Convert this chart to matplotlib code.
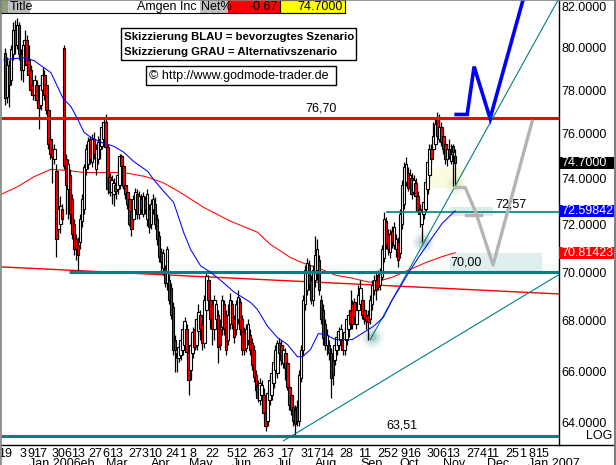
import matplotlib
matplotlib.use("Agg")
import matplotlib.pyplot as plt
import numpy as np
import pandas as pd
from matplotlib.patches import Rectangle
from matplotlib.transforms import blended_transform_factory
from matplotlib.ticker import NullLocator, FixedLocator

plt.rcParams['font.family'] = ['Liberation Sans', 'DejaVu Sans']

# ---------------- data ----------------
holidays = ['2005-12-26', '2006-01-02', '2006-01-16', '2006-02-20', '2006-04-14',
            '2006-05-29', '2006-07-04', '2006-09-04']
start_date = '2005-12-19'
last_date = '2006-11-14'
axis_end_date = '2007-01-31'

opens = [79.76, 77.68, 79.19, 78.48, 79.67, 80.86, 80.14, 81.10, 79.67, 78.95,
         80.14, 80.38, 79.43, 78.95, 78.24, 77.78, 78.24, 77.55, 77.33, 78.00,
         78.72, 78.24, 77.10, 75.75, 75.30, 74.85, 74.32, 71.80, 72.02, 72.67,
         80.00, 74.85, 73.53, 74.18, 73.10, 72.02, 71.38, 71.16, 71.25, 72.15,
         72.67, 74.41, 74.63, 75.75, 74.72, 75.75, 74.41, 74.85, 75.30, 75.44,
         75.75, 76.52, 75.39, 74.09, 73.40, 73.31, 73.74, 73.53, 73.74, 74.99,
         74.54, 73.74, 73.40, 73.10, 72.58, 72.24, 72.67, 73.31, 72.45, 73.10,
         72.45, 73.10, 72.24, 72.67, 72.02, 72.67, 72.88, 72.24, 71.51, 70.86,
         70.17, 70.17, 69.56, 69.68, 69.35, 68.55, 67.25, 66.73, 66.53, 66.65,
         66.85, 67.05, 67.66, 66.77, 66.04, 66.73, 67.66, 67.05, 67.58, 68.26,
         67.86, 67.13, 68.46, 69.68, 68.87, 68.67, 67.66, 68.06, 68.26, 67.66,
         67.74, 68.67, 68.26, 67.25, 67.86, 68.67, 68.06, 67.66, 68.06, 68.75,
         68.06, 67.54, 66.93, 67.25, 67.45, 67.13, 66.85, 65.84, 65.46, 64.87,
         65.07, 65.07, 64.37, 64.09, 64.87, 65.07, 65.53, 66.04, 65.92, 67.13,
         67.05, 66.32, 66.73, 66.32, 65.38, 65.07, 64.60, 64.48, 64.60, 64.09,
         65.73, 66.85, 68.67, 69.27, 70.30, 69.68, 68.87, 69.68, 70.09, 70.52,
         68.87, 68.46, 67.86, 67.05, 67.05, 66.73, 66.65, 66.44, 66.85, 67.05,
         67.25, 67.25, 66.85, 67.25, 67.66, 68.46, 68.67, 68.75, 67.86, 68.46,
         68.67, 68.87, 68.46, 68.26, 68.26, 68.06, 68.67, 69.27, 69.68, 69.88,
         69.47, 69.80, 70.60, 72.15, 71.59, 70.86, 71.72, 71.16, 70.95, 71.25,
         70.82, 72.02, 72.88, 73.87, 74.27, 73.74, 74.05, 73.40, 73.83, 73.23,
         72.67, 72.02, 72.45, 72.67, 73.53, 74.18, 75.30, 75.30, 75.53, 76.65,
         75.75, 76.29, 75.89, 75.53, 74.85, 75.30, 74.76, 75.45, 74.99]
highs = [80.00, 79.53, 79.43, 80.14, 81.24, 81.33, 81.43, 81.24, 79.91, 80.38,
         80.86, 80.62, 80.14, 79.19, 78.48, 78.72, 78.48, 77.78, 78.72, 79.10,
         78.95, 78.48, 77.33, 75.98, 75.53, 75.53, 74.63, 73.10, 73.23, 72.88,
         80.14, 75.08, 74.85, 74.41, 73.31, 72.24, 71.59, 71.46, 72.45, 73.31,
         74.63, 75.53, 75.84, 75.89, 75.98, 76.07, 75.53, 75.89, 75.98, 76.52,
         76.74, 76.88, 75.53, 74.27, 74.18, 74.05, 73.96, 74.63, 75.08, 75.08,
         74.72, 73.96, 73.53, 73.23, 72.75, 73.27, 73.61, 73.53, 73.44, 73.31,
         73.40, 73.23, 73.53, 72.88, 73.10, 73.31, 73.18, 72.45, 71.72, 71.03,
         70.95, 70.30, 71.08, 69.88, 69.56, 68.75, 67.45, 66.93, 67.13, 67.45,
         67.86, 68.14, 67.86, 66.93, 67.25, 67.74, 68.06, 68.26, 68.67, 68.46,
         68.06, 69.07, 69.96, 69.88, 69.07, 68.87, 69.07, 68.87, 68.46, 68.06,
         69.07, 68.87, 68.46, 68.67, 69.15, 68.87, 68.26, 68.87, 69.27, 68.95,
         68.26, 67.74, 67.86, 68.06, 67.66, 67.33, 67.05, 66.04, 65.65, 65.73,
         65.65, 65.34, 64.56, 65.26, 65.84, 66.12, 66.65, 67.05, 67.25, 67.33,
         67.25, 67.05, 66.93, 66.53, 65.57, 65.26, 64.76, 64.68, 64.87, 66.04,
         67.05, 69.07, 70.30, 70.60, 70.52, 69.88, 70.30, 71.51, 71.38, 70.73,
         69.07, 68.67, 68.06, 67.66, 67.25, 66.93, 66.85, 67.25, 67.54, 67.74,
         67.86, 67.45, 67.74, 68.26, 68.46, 69.27, 68.87, 68.95, 68.67, 69.47,
         69.68, 69.07, 68.67, 68.46, 68.46, 69.07, 69.68, 69.88, 69.96, 70.09,
         70.17, 71.16, 72.54, 72.32, 71.80, 71.80, 71.93, 72.11, 71.59, 71.46,
         72.67, 73.96, 74.72, 74.94, 74.50, 74.41, 74.27, 74.18, 74.05, 73.44,
         72.88, 72.75, 73.18, 74.05, 74.85, 75.53, 75.53, 76.52, 76.65, 77.01,
         76.88, 76.52, 76.11, 75.75, 75.53, 75.75, 75.53, 75.53, 75.30]
lows = [77.33, 77.42, 77.24, 78.24, 79.43, 79.67, 79.91, 79.43, 78.48, 78.38,
        79.67, 78.72, 78.24, 77.78, 77.55, 77.55, 77.33, 76.20, 77.10, 77.78,
        77.55, 76.88, 75.30, 74.85, 73.83, 74.63, 70.65, 71.38, 71.67, 72.02,
        74.41, 72.45, 72.24, 72.02, 71.38, 70.73, 70.52, 70.00, 70.95, 71.89,
        72.45, 74.18, 74.41, 74.63, 74.50, 74.85, 74.18, 74.63, 74.85, 75.30,
        75.53, 75.30, 73.31, 73.23, 72.88, 72.80, 73.10, 73.31, 73.53, 74.32,
        73.53, 73.10, 72.67, 71.93, 71.51, 72.02, 72.45, 72.24, 72.24, 72.45,
        72.32, 72.45, 71.93, 71.67, 71.80, 72.45, 71.80, 71.16, 70.43, 70.00,
        69.88, 69.39, 69.27, 68.67, 68.06, 66.65, 65.96, 65.96, 66.36, 66.44,
        66.65, 66.85, 66.44, 65.07, 65.65, 66.53, 66.85, 66.85, 67.42, 67.25,
        66.85, 66.93, 68.26, 68.67, 67.66, 67.05, 67.25, 67.66, 66.32, 66.85,
        67.45, 67.45, 66.65, 67.05, 67.66, 67.66, 67.13, 67.45, 67.86, 67.45,
        66.65, 66.65, 66.77, 67.05, 66.65, 66.04, 65.57, 65.07, 64.79, 64.68,
        64.87, 64.17, 63.70, 63.90, 64.68, 64.87, 65.34, 65.84, 65.73, 66.44,
        66.24, 66.12, 65.65, 65.26, 64.48, 64.29, 63.90, 63.51, 63.90, 63.90,
        65.57, 66.65, 68.46, 69.07, 69.27, 68.67, 68.59, 69.39, 69.68, 69.07,
        67.86, 67.05, 66.85, 66.65, 66.44, 64.95, 65.46, 66.24, 66.65, 66.85,
        67.05, 66.65, 66.65, 67.05, 67.37, 67.66, 67.66, 67.94, 67.66, 68.26,
        68.46, 68.06, 67.86, 67.66, 67.25, 67.86, 68.46, 69.07, 68.87, 69.27,
        69.27, 69.68, 70.43, 70.95, 70.73, 70.60, 71.03, 70.95, 70.65, 70.22,
        70.60, 71.80, 72.67, 73.66, 73.44, 73.53, 73.10, 73.23, 72.58, 72.45,
        71.89, 71.25, 72.24, 72.58, 73.31, 74.05, 74.63, 75.08, 75.30, 75.75,
        75.62, 75.44, 75.08, 74.63, 74.54, 74.85, 74.63, 73.70, 73.70]
closes = [77.64, 79.19, 78.24, 79.91, 80.86, 80.14, 81.10, 79.67, 78.95, 80.14,
          80.38, 79.19, 78.72, 78.00, 77.78, 78.48, 77.55, 77.19, 78.24, 78.72,
          77.78, 77.10, 75.53, 75.08, 74.94, 75.30, 71.38, 72.67, 72.80, 72.24,
          74.54, 73.74, 74.63, 72.45, 71.59, 70.95, 70.95, 70.73, 72.24, 73.10,
          74.50, 75.30, 75.66, 74.85, 75.75, 75.08, 75.30, 75.62, 75.75, 76.29,
          76.52, 75.39, 73.53, 73.40, 73.96, 73.83, 73.44, 74.18, 74.99, 74.54,
          73.66, 73.31, 72.88, 72.02, 71.80, 73.10, 73.40, 72.45, 73.23, 72.67,
          73.23, 72.67, 73.31, 71.89, 72.88, 73.10, 72.02, 71.38, 70.65, 70.43,
          70.82, 69.56, 70.95, 68.87, 68.26, 66.85, 66.85, 66.53, 66.97, 67.25,
          67.66, 67.98, 66.77, 65.65, 67.05, 67.54, 66.97, 68.06, 68.38, 67.66,
          67.13, 68.87, 69.84, 68.87, 68.06, 67.66, 68.87, 68.67, 66.97, 67.05,
          68.87, 67.66, 66.85, 68.26, 68.87, 67.86, 67.37, 68.67, 68.99, 67.66,
          66.85, 66.85, 67.66, 67.86, 66.85, 66.24, 65.77, 65.26, 64.95, 65.53,
          65.46, 64.37, 63.90, 65.14, 65.65, 65.92, 66.36, 66.85, 67.13, 66.73,
          66.44, 66.85, 66.12, 65.38, 64.68, 64.48, 64.09, 63.97, 64.09, 65.84,
          66.85, 68.87, 70.09, 70.39, 69.47, 68.87, 70.09, 70.73, 70.95, 69.27,
          68.06, 67.33, 67.05, 67.45, 66.73, 65.73, 65.84, 67.05, 67.37, 67.58,
          67.66, 66.85, 67.54, 68.06, 68.26, 67.86, 67.86, 68.14, 68.46, 69.07,
          69.35, 68.26, 68.06, 67.98, 67.94, 68.87, 69.47, 69.68, 69.27, 69.39,
          69.96, 70.95, 72.24, 71.16, 70.95, 71.59, 71.25, 71.89, 71.38, 70.52,
          72.45, 73.74, 74.50, 74.63, 73.61, 74.18, 73.31, 73.96, 73.23, 72.58,
          72.45, 72.54, 72.97, 73.87, 74.72, 75.30, 74.85, 75.89, 76.43, 75.89,
          76.29, 75.62, 75.30, 74.85, 75.30, 74.99, 75.08, 75.20, 74.70]

# moving averages (index, price)
blue_ma_idx = [-0.5, 9.6, 14.7, 19.7, 23.3, 29.3, 33.4, 36.9, 40, 43.5, 48.5, 55.1, 60.2,
               65.2, 72.3, 75.3, 80.4, 85.4, 90.5, 94, 99.1, 104.1, 110.7, 115.8, 124.4,
               127.9, 133, 138, 143.1, 148.1, 150.7, 154.7, 158.7, 162.3, 167.3, 175.9,
               181.5, 186.6, 191.6, 196.2, 200.2, 204.2, 209.3, 216.4, 221.4, 228]
blue_ma_val = [79.43, 79.52, 79.38, 79.05, 78.81, 77.64, 77.24, 76.65, 76.07, 75.84, 75.62,
               75.44, 75.17, 74.76, 74.32, 73.96, 73.44, 72.97, 71.67, 70.95, 70.26, 70.00,
               69.56, 69.19, 68.75, 68.46, 67.78, 67.33, 67.05, 66.57, 66.57, 66.85, 67.49,
               67.45, 67.25, 67.25, 67.53, 67.78, 68.14, 68.87, 69.39, 69.95, 70.60, 71.46,
               72.06, 72.59842]
red_ma_idx = [-2, 6.6, 14.7, 23.3, 31.9, 40, 48.5, 57.1, 62.7, 71.3, 79.9, 88, 96.6, 100.6,
              114.3, 127.9, 134.5, 144.6, 150.7, 158.7, 167.3, 175.9, 184, 187.6, 196.2,
              204.2, 212.8, 221.4, 228]
red_ma_val = [73.31, 73.66, 74.09, 74.41, 74.36, 74.27, 74.27, 74.27, 74.23, 74.09, 73.83,
              73.44, 72.97, 72.75, 72.15, 71.68, 71.16, 70.61, 70.39, 70.17, 69.88, 69.75,
              69.59, 69.59, 69.79, 70.08, 70.39, 70.65, 70.81423]

# marked levels
level_resist = 76.70
level_mid = 72.57
level_support = 70.00
level_low = 63.51
level_texts = {76.70: "76,70", 72.57: "72,57", 70.00: "70,00", 63.51: "63,51"}

# trend lines (index, price)
red_trend = ([-2.02, 280.6], [70.22, 69.10])
teal_trend_flat = ([141.0, 280.6], [63.32, 69.90])
teal_trend_steep = ([185.0, 280.1], [67.25, 82.29])

# scenario sketches (index, price)
blue_path_idx = [228.5, 234.1, 237.6, 245.7, 264.9]
blue_path_val = [76.88, 76.88, 79.10, 76.70, 83.18]
grey_path_idx = [228.0, 233.1, 238.6, 247.2, 267.0]
grey_path_val = [73.61, 73.61, 72.50, 70.30, 76.56]
grey_tick_idx = [233.6, 241.2]
grey_tick_val = [72.41, 72.41]

# zones (idx0, idx1, price0, price1)
zones = [(215.4, 232.1, 73.61, 74.45, '#fbfbe1'),
         (225.5, 247.2, 72.37, 72.75, '#dcecec'),
         (225.5, 272.0, 70.00, 70.82, '#e0eeee')]
glows = [(186.0, 67.37, '#3d8f8f'), (211.8, 71.25, '#3d8f8f'), (228.0, 73.74, '#b8d8a0')]

ytick_vals = [64, 66, 68, 70, 72, 74, 76, 78, 80, 82]
last_price = 74.70
net_pct = -0.67
highlight = [(74.70, '74.7000', 'black'), (72.59842, '72.59842', '#0000ff'),
             (70.81423, '70.81423', '#ff0000')]

day_ticks = ['2005-12-19', '2006-01-03', '2006-01-09', '2006-01-17', '2006-01-30', '2006-02-06',
             '2006-02-13', '2006-02-27', '2006-03-06', '2006-03-13', '2006-03-27', '2006-04-03',
             '2006-04-10', '2006-04-24', '2006-05-01', '2006-05-08', '2006-05-22', '2006-06-05',
             '2006-06-12', '2006-06-26', '2006-07-03', '2006-07-17', '2006-07-31', '2006-08-07',
             '2006-08-14', '2006-08-28', '2006-09-11', '2006-09-25', '2006-10-02', '2006-10-09',
             '2006-10-16', '2006-10-30', '2006-11-06', '2006-11-13', '2006-11-27', '2006-12-04',
             '2006-12-11', '2006-12-25', '2007-01-01', '2007-01-08', '2007-01-15']
month_labels = [('2006-01-03', 'Jan 2006'), ('2006-03-01', 'Mar'), ('2006-04-03', 'Apr'),
                ('2006-05-01', 'May'), ('2006-06-01', 'Jun'), ('2006-07-03', 'Jul'),
                ('2006-08-01', 'Aug'), ('2006-09-01', 'Sep'), ('2006-10-02', 'Oct'),
                ('2006-11-01', 'Nov'), ('2006-12-01', 'Dec'), ('2007-01-01', 'Jan 2007')]

# ---------------- dates / index ----------------
past = pd.bdate_range(start_date, last_date)
past = past[~past.isin(pd.to_datetime(holidays))]
future = pd.bdate_range(pd.Timestamp(last_date) + pd.Timedelta(days=1), axis_end_date)
dates = past.append(future)
pos = {d: i for i, d in enumerate(dates)}

o = np.array(opens); h = np.array(highs); l = np.array(lows); c = np.array(closes)
n = len(c)
x = np.arange(n)

# ---------------- figure ----------------
W, H = 616, 465
fig = plt.figure(figsize=(W / 100, H / 100), dpi=100)
plot_bottom = 445
plot_right = 559
ax = fig.add_axes([1 / W, (H - plot_bottom) / H, (plot_right - 1) / W, plot_bottom / H])
ax.set_yscale('log')
ax.set_xlim(-2.02, 280.6)
ax.set_ylim(63.165, 82.293)

for side in ['top', 'left']:
    ax.spines[side].set_visible(False)
ax.spines['right'].set_linewidth(1.0)
ax.spines['bottom'].set_linewidth(1.0)

# zones
for x0, x1, p0, p1, col in zones:
    ax.add_patch(Rectangle((x0, p0), x1 - x0, p1 - p0, facecolor=col, edgecolor='none', zorder=1))
# glows
for gx, gy, col in glows:
    for s, a in [(260, 0.06), (160, 0.10), (80, 0.16), (30, 0.25)]:
        ax.scatter([gx], [gy], s=s, color=col, alpha=a, lw=0, zorder=2)

# horizontal levels
ax.plot([-2.02, 280.6], [level_resist] * 2, color='#ff0000', lw=2.2, zorder=5, solid_capstyle='butt')
ax.plot([32.4, 280.6], [level_support] * 2, color='#008080', lw=2.2, zorder=5, solid_capstyle='butt')
ax.plot([-2.02, 280.6], [level_low] * 2, color='#008080', lw=2.2, zorder=5, solid_capstyle='butt')
ax.plot([193.0, 280.6], [level_mid] * 2, color='#008080', lw=1.2, zorder=5, solid_capstyle='butt')

# trend lines
ax.plot(*red_trend, color='#ff0000', lw=1.0, zorder=2)
ax.plot(*teal_trend_flat, color='#008080', lw=0.8, zorder=5)
ax.plot(*teal_trend_steep, color='#008080', lw=0.8, zorder=5)

# moving averages
ax.plot(red_ma_idx, red_ma_val, color='#ff0000', lw=0.75, zorder=2)
ax.plot(blue_ma_idx, blue_ma_val, color='#0000ff', lw=0.75, zorder=6)

# candles
up = c >= o
ax.vlines(x, l, h, color='black', lw=0.9, zorder=3)
bot = np.minimum(o, c)
top = np.maximum(o, c)
hgt = np.maximum(top - bot, 0.03)
ax.bar(x, hgt, bottom=bot, width=1.25, color=np.where(up, 'white', '#ff0000'),
       edgecolor='black', linewidth=0.8, zorder=4)

# scenarios
ax.plot(blue_path_idx, blue_path_val, color='#0000ff', lw=2.6, zorder=7, solid_joinstyle='miter')
ax.plot(grey_path_idx, grey_path_val, color='#b4b4b4', lw=2.4, zorder=7)
ax.plot(grey_tick_idx, grey_tick_val, color='#b4b4b4', lw=2.4, zorder=7)

# level labels
px = np.exp(1 / 1681.0)
ax.text(152, level_resist * px ** 4, level_texts[76.70], fontsize=9, ha='left', va='bottom', zorder=8)
ax.text(248.2, level_mid * px ** 1, level_texts[72.57], fontsize=9, ha='left', va='bottom', zorder=8)
ax.text(225.5, level_support * px ** 4, level_texts[70.00], fontsize=9, ha='left', va='bottom', zorder=8)
ax.text(193.0, level_low * px ** 4, level_texts[63.51], fontsize=9, ha='left', va='bottom', zorder=8)

# y axis on right
ax.yaxis.tick_right()
ax.yaxis.set_minor_locator(NullLocator())
ax.yaxis.set_major_locator(FixedLocator(ytick_vals))
ax.set_yticklabels([f"{v:.4f}" for v in ytick_vals])
ax.tick_params(axis='y', length=0, pad=2, labelsize=9)

tr = blended_transform_factory(ax.transAxes, ax.transData)
box_w = (614 - plot_right) / (plot_right - 1)
for val, txt, col in highlight:
    ax.add_patch(Rectangle((1.0, val * px ** -6), box_w, val * (px ** 6 - px ** -6),
                           transform=tr, facecolor=col, edgecolor='none', clip_on=False, zorder=9))
    ax.text(1.004, val, txt, transform=tr, color='white', fontsize=9, va='center', ha='left',
            clip_on=False, zorder=10)

# x axis
tick_pos = [pos[pd.Timestamp(d)] for d in day_ticks]
ax.set_xticks(tick_pos)
ax.set_xticklabels([str(pd.Timestamp(d).day) for d in day_ticks])
ax.xaxis.set_minor_locator(NullLocator())
ax.tick_params(axis='x', length=0, pad=2, labelsize=9)
xtr = ax.get_xaxis_transform()
feb_pos = pos[pd.Timestamp('2006-02-01')]
ax.text(feb_pos + 5.5, -0.030, 'Feb', transform=xtr, fontsize=9, ha='left', va='top', clip_on=False)
for d, lab in month_labels:
    ax.text(pos[pd.Timestamp(d)] + 3, -0.030, lab, transform=xtr, fontsize=9, ha='left', va='top',
            clip_on=False, bbox=dict(facecolor='white', edgecolor='none', pad=0.3))

# ---------------- overlay (title bar, boxes, frame) ----------------
ov = fig.add_axes([0, 0, 1, 1], zorder=20)
ov.set_xlim(0, W)
ov.set_ylim(H, 0)
ov.axis('off')

def box(x0, y0, x1, y1, fc, ec='none', lw=1.0):
    ov.add_patch(Rectangle((x0, y0), x1 - x0, y1 - y0, facecolor=fc, edgecolor=ec, lw=lw))

box(0, 0, 345, 13.5, 'white')
box(0, 0, 8, 13.5, '#8e9f7c')
box(8, 0, 30, 13.5, '#c0c0c0')
ov.text(10, 7, 'Title', fontsize=9, va='center', ha='left')
ov.text(197, 7, 'Amgen Inc', fontsize=9, va='center', ha='right')
box(200, 0, 228, 13.5, '#c0c0c0')
ov.text(201, 7, 'Net%', fontsize=9, va='center', ha='left')
box(228, 0, 280, 13.5, '#ff0000')
ov.text(278, 7, f"{net_pct:.2f}", fontsize=9, va='center', ha='right')
box(280, 0.5, 345, 13.5, '#ffff00', ec='black', lw=0.8)
ov.text(343, 7, f"{last_price:.4f}", fontsize=9, va='center', ha='right')
ov.plot([0, 345], [13.5, 13.5], color='black', lw=0.8)

box(120.5, 28.5, 356, 60.5, 'white', ec='black', lw=1.0)
ov.text(123.5, 37.5, 'Skizzierung BLAU = bevorzugtes Szenario', fontsize=8.2, fontweight='bold',
        va='center', ha='left')
ov.text(123.5, 52, 'Skizzierung GRAU = Alternativszenario', fontsize=8.2, fontweight='bold',
        va='center', ha='left')
box(145.5, 66.5, 336, 85, 'white', ec='black', lw=1.0)
ov.text(149, 76, '\u00a9 http://www.godmode-trader.de', fontsize=9, va='center', ha='left')

ov.plot([plot_right, W], [plot_bottom, plot_bottom], color='black', lw=1.0)
ov.text(612, 442, 'LOG', fontsize=9, va='bottom', ha='right')

ov.plot([0.5, 0.5], [0, H], color='#808080', lw=1.2)
ov.plot([0, W], [0.5, 0.5], color='#808080', lw=1.2)
ov.plot([W - 1, W - 1], [0, H], color='#808080', lw=1.5)

fig.savefig('out.png', dpi=100)
